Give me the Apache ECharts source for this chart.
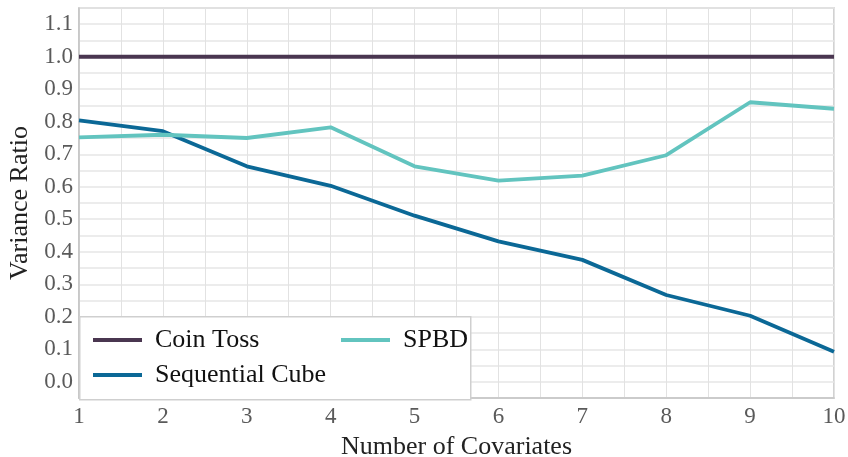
<!DOCTYPE html>
<html><head><meta charset="utf-8">
<script src="https://cdn.jsdelivr.net/npm/echarts@6/dist/echarts.min.js"></script>
<style>html,body{margin:0;padding:0;background:#fff}#c{width:848px;height:457px}</style>
</head><body><div id="c"></div>
<script>
const xValues = [1, 2, 3, 4, 5, 6, 7, 8, 9, 10];
const coinToss = [1.0, 1.0, 1.0, 1.0, 1.0, 1.0, 1.0, 1.0, 1.0, 1.0];
const sequentialCube = [0.804, 0.771, 0.663, 0.603, 0.511, 0.432, 0.375, 0.267, 0.203, 0.092];
const spbd = [0.752, 0.760, 0.750, 0.783, 0.663, 0.619, 0.634, 0.697, 0.860, 0.840];
const seriesNames = ['Coin Toss', 'Sequential Cube', 'SPBD'];
const colors = ['#4a3650', '#0b6896', '#62c4bf'];

const FONT = 'Liberation Serif';
const pairs = a => xValues.map((x, i) => [x, a[i]]);
const chart = echarts.init(document.getElementById('c'));
const legendCommon = {
  orient: 'vertical', itemWidth: 49, itemHeight: 4, itemGap: 7, padding: 0,
  icon: 'rect', z: 10,
  textStyle: { fontFamily: FONT, fontSize: 26, color: '#111', lineHeight: 28, padding: [0, 0, 0, 8] }
};
chart.setOption({
  animation: false,
  backgroundColor: '#fff',
  color: colors,
  grid: { left: 79, right: 14, top: 8, bottom: 59, show: true, borderColor: '#c4c4c4', borderWidth: 1.5,
          containLabel: false, outerBoundsMode: 'none' },
  graphic: [{ type: 'rect', left: 79, top: 316, z: 5, shape: { width: 391, height: 83 },
              style: { fill: '#fff', stroke: '#cfcfcf', lineWidth: 1.5 } }],
  legend: [
    Object.assign({ left: 93, top: 326, data: [seriesNames[0], seriesNames[1]] }, legendCommon),
    Object.assign({ left: 341, top: 326, data: [seriesNames[2]] }, legendCommon)
  ],
  xAxis: {
    type: 'value', min: 1, max: 10, interval: 0.5,
    name: 'Number of Covariates', nameLocation: 'middle', nameGap: 36,
    nameTextStyle: { fontFamily: FONT, fontSize: 26, color: '#222' },
    axisLine: { show: true, onZero: false, lineStyle: { color: '#c4c4c4', width: 1.5 } },
    axisTick: { show: false },
    axisLabel: { margin: 7, fontFamily: FONT, fontSize: 23, color: '#5a5a5a',
      formatter: v => (Math.abs(v - Math.round(v)) < 1e-6 ? String(Math.round(v)) : '') },
    splitLine: { show: true, lineStyle: { color: '#e2e2e2', width: 1 } }
  },
  yAxis: {
    type: 'value', min: -0.05, max: 1.15, interval: 0.05,
    name: 'Variance Ratio', nameLocation: 'middle', nameGap: 43, nameRotate: 90,
    nameTextStyle: { fontFamily: FONT, fontSize: 26, color: '#222' },
    axisLine: { show: true, lineStyle: { color: '#c4c4c4', width: 1.5 } },
    axisTick: { show: false },
    axisLabel: { margin: 6, fontFamily: FONT, fontSize: 23, color: '#5a5a5a',
      formatter: v => { const k = Math.round(v * 100); return (k % 10 === 0 && k >= 0) ? (k / 100).toFixed(1) : ''; } },
    splitLine: { show: true, lineStyle: { color: '#e6e6e6', width: 1.5 } }
  },
  series: [
    { name: seriesNames[0], type: 'line', data: pairs(coinToss), showSymbol: false, symbol: 'none', lineStyle: { width: 3.8 }, z: 3 },
    { name: seriesNames[1], type: 'line', data: pairs(sequentialCube), showSymbol: false, symbol: 'none', lineStyle: { width: 3.8 }, z: 3 },
    { name: seriesNames[2], type: 'line', data: pairs(spbd), showSymbol: false, symbol: 'none', lineStyle: { width: 3.8 }, z: 3 }
  ]
});
</script></body></html>
